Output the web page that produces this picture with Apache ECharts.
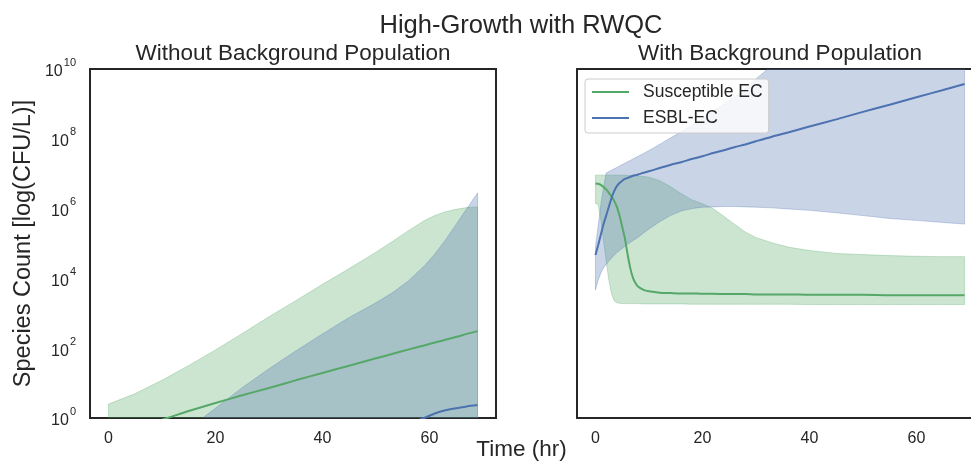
<!DOCTYPE html>
<html>
<head>
<meta charset="utf-8">
<script src="https://cdn.jsdelivr.net/npm/echarts@6/dist/echarts.min.js"></script>
<style>
html,body{margin:0;padding:0;background:#fff;}
#chart{width:971px;height:461px;}
</style>
</head>
<body>
<div id="chart"></div>
<script>
// ---------- DATA ----------
const SERIES_NAMES = ['Susceptible EC', 'ESBL-EC'];
const X_TICKS = [0, 20, 40, 60];
const Y_TICKS = [1, 1e2, 1e4, 1e6, 1e8, 1e10];

// Left panel: Without Background Population
const L_T = [0, 5, 10, 15, 20, 25, 30, 35, 40, 45, 50, 53, 56, 59, 61, 63, 65, 67, 69];
const L_SUS_MEAN = [0.33, 0.54, 0.89, 1.58, 2.69, 4.47, 7.24, 12.0, 19.5, 31.6, 51.3, 68, 91, 120, 145, 174, 209, 257, 309];
const L_SUS_HI = [2.5, 5.0, 12, 32, 89, 263, 794, 2290, 6760, 19100, 56200, 112000, 229000, 447000, 631000, 813000, 955000, 1070000, 1120000];
const L_SUS_LO = [0.01, 0.01, 0.01, 0.01, 0.01, 0.01, 0.01, 0.01, 0.01, 0.01, 0.01, 0.01, 0.01, 0.01, 0.01, 0.01, 0.01, 0.01, 0.01];
const L_ESBL_MEAN = [0.005, 0.007, 0.01, 0.015, 0.02, 0.03, 0.05, 0.08, 0.12, 0.2, 0.35, 0.48, 0.68, 1.0, 1.35, 1.66, 1.9, 2.14, 2.34];
const L_ESBL_HI = [0.011, 0.04, 0.14, 0.5, 1.9, 7.4, 25.7, 83, 257, 759, 2000, 3800, 8300, 22400, 50100, 126000, 355000, 1000000, 2820000];
const L_ESBL_LO = [0.001, 0.001, 0.001, 0.001, 0.001, 0.001, 0.001, 0.001, 0.001, 0.001, 0.001, 0.001, 0.001, 0.001, 0.001, 0.001, 0.001, 0.001, 0.001];

// Right panel: With Background Population
const R_T = [0, 0.5, 1, 1.5, 2, 2.5, 3, 3.5, 4, 4.5, 5, 5.5, 6, 6.5, 7, 7.5, 8, 9, 10, 12, 14, 16, 18, 20, 22, 24, 26, 28, 30, 33, 36, 40, 45, 50, 55, 60, 65, 69];
const R_SUS_MEAN = [5.25e6, 5.13e6, 4.79e6, 4.17e6, 3.55e6, 2.82e6, 2.24e6, 1.66e6, 1.12e6, 6.3e5, 3.0e5, 1.41e5, 5.0e4, 2.0e4, 1.05e4, 7240, 5750, 4680, 4270, 3890, 3800, 3720, 3720, 3630, 3630, 3550, 3550, 3550, 3470, 3470, 3470, 3390, 3390, 3390, 3310, 3310, 3310, 3310];
const R_SUS_HI = [9.1e6, 9.1e6, 9.1e6, 9.1e6, 9.1e6, 9.1e6, 9.1e6, 9.1e6, 9.1e6, 9.1e6, 9.1e6, 9.1e6, 8.9e6, 8.9e6, 8.7e6, 8.7e6, 8.5e6, 8.3e6, 7.9e6, 6.3e6, 4.3e6, 2.7e6, 1.8e6, 1.38e6, 1.0e6, 6.0e5, 3.55e5, 2.14e5, 1.48e5, 1.05e5, 7.9e4, 6.3e4, 5.2e4, 4.8e4, 4.5e4, 4.3e4, 4.2e4, 4.2e4];
const R_SUS_LO = [1.41e6, 1.32e6, 5.0e5, 1.26e5, 3.2e4, 8900, 3550, 2290, 2000, 1950, 1900, 1900, 1900, 1900, 1900, 1900, 1900, 1860, 1860, 1860, 1860, 1860, 1820, 1820, 1820, 1820, 1820, 1820, 1820, 1820, 1820, 1780, 1780, 1780, 1780, 1780, 1780, 1780];
const R_ESBL_MEAN = [4.7e4, 8.9e4, 1.78e5, 3.55e5, 6.3e5, 1.12e6, 2.0e6, 3.16e6, 4.4e6, 5.4e6, 6.3e6, 7.1e6, 7.6e6, 8.1e6, 8.7e6, 9.1e6, 9.5e6, 1.07e7, 1.17e7, 1.45e7, 1.78e7, 2.14e7, 2.63e7, 3.16e7, 3.9e7, 4.7e7, 5.75e7, 6.9e7, 8.5e7, 1.15e8, 1.51e8, 2.24e8, 3.6e8, 5.9e8, 9.5e8, 1.55e9, 2.5e9, 3.7e9];
const R_ESBL_HI = [7.9e4, 3.16e5, 1.26e6, 4.0e6, 1.05e7, 1.15e7, 1.26e7, 1.38e7, 1.51e7, 1.66e7, 1.82e7, 2.0e7, 2.2e7, 2.4e7, 2.63e7, 2.9e7, 3.16e7, 3.8e7, 4.6e7, 6.9e7, 1.05e8, 1.58e8, 2.5e8, 4.0e8, 6.3e8, 1.0e9, 1.58e9, 2.8e9, 5.2e9, 1.26e10, 2.5e10, 6.3e10, 2.0e11, 6.3e11, 2.0e12, 6.3e12, 2.0e13, 4.0e13];
const R_ESBL_LO = [4680, 8900, 1.41e4, 2.0e4, 2.5e4, 3.16e4, 3.8e4, 4.6e4, 5.5e4, 6.3e4, 7.2e4, 8.3e4, 9.5e4, 1.07e5, 1.2e5, 1.35e5, 1.51e5, 2.0e5, 2.6e5, 4.2e5, 6.3e5, 8.5e5, 1.0e6, 1.1e6, 1.12e6, 1.15e6, 1.15e6, 1.12e6, 1.1e6, 1.05e6, 9.8e5, 8.9e5, 7.6e5, 6.3e5, 5.2e5, 4.6e5, 4.0e5, 3.6e5];

// ---------- STYLE ----------
const GREEN = '#55a868';
const BLUE = '#4c72b0';
const GREEN_FILL = 'rgba(85,168,104,0.3)';
const BLUE_FILL = 'rgba(76,114,176,0.3)';
const TXT = '#262626';
const FONT = 'Liberation Sans, Arial, sans-serif';
const FRAME = { show: true, onZero: false, lineStyle: { color: TXT, width: 2 } };

function band(name, idx, T, lo, hi, fill) {
  return {
    type: 'custom', name: name, xAxisIndex: idx, yAxisIndex: idx,
    clip: true, silent: true, z: 1,
    data: T.map((t, i) => [t, lo[i], hi[i]]),
    encode: { x: 0, y: [1, 2] },
    renderItem: function (params, api) {
      if (params.dataIndex !== 0) return null;
      const pts = [];
      for (let i = 0; i < T.length; i++) pts.push(api.coord([T[i], hi[i]]));
      for (let i = T.length - 1; i >= 0; i--) pts.push(api.coord([T[i], lo[i]]));
      const cs = params.coordSys;
      return {
        type: 'polygon',
        shape: { points: pts },
        style: { fill: fill, stroke: fill, lineWidth: 1 },
        clipPath: { type: 'rect', shape: { x: cs.x, y: cs.y, width: cs.width, height: cs.height } }
      };
    }
  };
}
function line(name, idx, T, v, color) {
  return {
    type: 'line', name: name, xAxisIndex: idx, yAxisIndex: idx,
    data: T.map((t, i) => [t, v[i]]),
    showSymbol: false, smooth: 0.25, z: 3, clip: true,
    lineStyle: { color: color, width: 2 },
    itemStyle: { color: color },
    emphasis: { disabled: true }
  };
}

const chart = echarts.init(document.getElementById('chart'), null, { renderer: 'canvas', width: 971, height: 461 });

const xLabel = { customValues: X_TICKS, color: TXT, fontSize: 16, margin: 13, fontFamily: FONT };

const option = {
  animation: false,
  textStyle: { fontFamily: FONT, color: TXT },
  title: [
    { text: 'High-Growth with RWQC', left: 521, top: 25.5, padding: 0, textAlign: 'center', textVerticalAlign: 'middle',
      textStyle: { fontSize: 25.5, fontWeight: 'normal', color: TXT, fontFamily: FONT } },
    { text: 'Without Background Population', left: 293, top: 53.5, padding: 0, textAlign: 'center', textVerticalAlign: 'middle',
      textStyle: { fontSize: 22.5, fontWeight: 'normal', color: TXT, fontFamily: FONT } },
    { text: 'With Background Population', left: 780, top: 53.5, padding: 0, textAlign: 'center', textVerticalAlign: 'middle',
      textStyle: { fontSize: 22.5, fontWeight: 'normal', color: TXT, fontFamily: FONT } }
  ],
  grid: [
    { left: 90, top: 69, width: 406, height: 349, show: true, borderColor: TXT, borderWidth: 2,
      backgroundColor: 'transparent', containLabel: false, outerBoundsMode: 'none' },
    { left: 577, top: 69, width: 406, height: 349, show: false,
      containLabel: false, outerBoundsMode: 'none' }
  ],
  xAxis: [
    { type: 'value', gridIndex: 0, min: -3.45, max: 72.45,
      axisLine: { show: false }, axisTick: { show: false }, splitLine: { show: false }, axisLabel: xLabel },
    { type: 'value', gridIndex: 1, min: -3.45, max: 72.45, position: 'bottom',
      axisLine: FRAME, axisTick: { show: false }, splitLine: { show: false }, axisLabel: xLabel },
    { type: 'value', gridIndex: 1, min: -3.45, max: 72.45, position: 'top',
      axisLine: FRAME, axisTick: { show: false }, splitLine: { show: false }, axisLabel: { show: false } }
  ],
  yAxis: [
    {
      type: 'log', logBase: 10, gridIndex: 0, min: 1, max: 1e10,
      axisLine: { show: false }, axisTick: { show: false }, splitLine: { show: false },
      axisLabel: {
        customValues: Y_TICKS, margin: 14,
        formatter: function (v) { return '{b|10}{e|' + Math.round(Math.log10(v)) + '}'; },
        rich: {
          b: { fontSize: 16, color: TXT, fontFamily: FONT, lineHeight: 16, padding: [6, 0, 0, 0] },
          e: { fontSize: 11, color: TXT, fontFamily: FONT, lineHeight: 11, padding: [0, 0, 13, 1] }
        }
      }
    },
    {
      type: 'log', logBase: 10, gridIndex: 1, min: 1, max: 1e10, position: 'left',
      axisLine: FRAME, axisTick: { show: false }, splitLine: { show: false },
      axisLabel: { show: false }
    }
  ],
  legend: {
    data: SERIES_NAMES,
    left: 585, top: 79,
    orient: 'vertical',
    icon: 'rect', itemWidth: 37, itemHeight: 2.2, itemGap: 6,
    padding: [3, 6, 5, 7],
    backgroundColor: 'rgba(255,255,255,0.8)',
    borderColor: '#cccccc', borderWidth: 1, borderRadius: 3,
    textStyle: { fontSize: 17.5, color: TXT, fontFamily: FONT, lineHeight: 20, padding: [0, 0, 0, 9] },
    selectedMode: false
  },
  graphic: [
    { type: 'text', x: 521.5, y: 450, silent: true,
      style: { text: 'Time (hr)', fill: TXT, font: '22.5px ' + FONT, textAlign: 'center', textVerticalAlign: 'middle' } },
    { type: 'text', x: 23.5, y: 243.5, rotation: Math.PI / 2, silent: true,
      style: { text: 'Species Count [log(CFU/L)]', fill: TXT, font: '23.5px ' + FONT, textAlign: 'center', textVerticalAlign: 'middle' } }
  ],
  series: [
    band('Susceptible EC band', 0, L_T, L_SUS_LO, L_SUS_HI, GREEN_FILL),
    band('ESBL-EC band', 0, L_T, L_ESBL_LO, L_ESBL_HI, BLUE_FILL),
    band('Susceptible EC band', 1, R_T, R_SUS_LO, R_SUS_HI, GREEN_FILL),
    band('ESBL-EC band', 1, R_T, R_ESBL_LO, R_ESBL_HI, BLUE_FILL),
    line('Susceptible EC', 0, L_T, L_SUS_MEAN, GREEN),
    line('ESBL-EC', 0, L_T, L_ESBL_MEAN, BLUE),
    line('Susceptible EC', 1, R_T, R_SUS_MEAN, GREEN),
    line('ESBL-EC', 1, R_T, R_ESBL_MEAN, BLUE)
  ]
};
chart.setOption(option);
</script>
</body>
</html>
